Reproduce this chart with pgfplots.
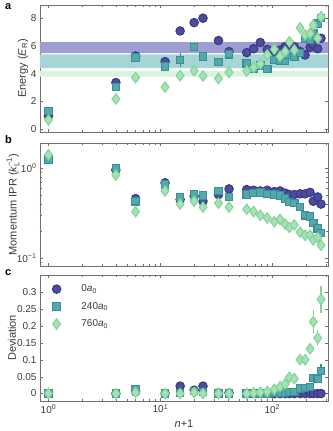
\documentclass[border=0pt]{standalone}
\usepackage{fontspec}
\setmainfont{Liberation Sans}
\usepackage{amsmath}
\usepackage{pgfplots}
\usepackage{pgfplotstable}
\pgfplotsset{compat=1.18}
\definecolor{cA}{HTML}{4E4D9C}
\definecolor{cAe}{HTML}{3A3889}
\definecolor{cB}{HTML}{52A8AA}
\definecolor{cBe}{HTML}{3B8F93}
\definecolor{cC}{HTML}{A6E3B4}
\definecolor{cCe}{HTML}{85D39A}
\definecolor{bandP}{HTML}{9E9ED2}
\definecolor{bandT}{HTML}{A5D5D4}
\definecolor{bandG}{HTML}{D9F3DF}
\definecolor{axgray}{HTML}{707070}
\definecolor{txgray}{HTML}{3A3A3A}

% energy: circle / square / diamond with errors
\pgfplotstableread{
n   c    ce   s    se   d    de
1   0.96 0    1.32 0    0.67 0
4   3.36 0    3.03 0    2.18 0
6   5.28 0    5.16 0    3.72 0
11  4.87 0.2  4.51 0    3.03 0
15  7.08 0    4.99 0.5  3.86 0.25
20  7.68 0    5.91 0    4.22 0.15
24  8.00 0    5.23 0    3.84 0
33  6.39 0    4.85 0    3.65 0
41  5.59 0    5.40 0.25 4.11 0.4
59  5.52 0    4.75 0    4.20 0.1
68  5.80 0    4.35 0    4.45 0
78  6.25 0    4.60 0    4.70 0
90  5.75 0    4.35 0    5.35 0
104 5.60 0    5.00 0    5.75 0
117 5.70 0    4.95 0    5.25 0
130 5.95 0    4.90 0    5.60 0
142 5.80 0    5.35 0    6.30 0
157 5.95 0    5.20 0    5.70 0
177 5.60 0    5.50 0    7.30 0
196 5.35 0    6.50 0    6.80 0
217 5.90 0    6.45 0    6.90 0
232 6.10 0    6.90 0    7.50 0
254 5.80 0    7.60 0    6.55 0
272 6.55 0    8.00 0    8.10 0
}\tEnergy

\pgfplotstableread{
n   c    s     d
1   1.30 1.25  1.41
4   0.96 1.00  0.84
6   0.46 0.43  0.33
11  0.69 0.66  0.56
15  0.45 0.48  0.40
20  0.49 0.51  0.43
24  0.43 0.50  0.37
33  0.51 0.56  0.41
41  0.59 0.48  0.37
59  0.58 0.51  0.35
68  0.57 0.53  0.33
78  0.56 0.54  0.30
90  0.57 0.52  0.28
104 0.55 0.51  0.255
117 0.56 0.50  0.27
130 0.53 0.46  0.24
142 0.51 0.42  0.22
157 0.51 0.41  0.235
177 0.52 0.37  0.195
196 0.52 0.30  0.18
217 0.54 0.29  0.18
232 0.43 0.245 0.16
254 0.48 0.215 0.17
272 0.40 0.19  0.14
}\tIPR

\pgfplotstableread{
n   c     ce  s     se    d     de
1   0     0   0     0     0     0
4   0     0   0     0     0     0
6   0.005 0   0.013 0     0.003 0.005
11  0     0   0     0     0     0
15  0.022 0   0.001 0     0     0
20  0.010 0   0.008 0     0.003 0
24  0.022 0   0.005 0     0     0
33  0.002 0   0     0     0     0
41  0.002 0   0     0     0     0
59  0     0   0     0     0     0
68  0     0   0     0     0.002 0
78  0     0   0     0     0.004 0
90  0     0   0     0     0.006 0
104 0     0   0.001 0     0.012 0.004
117 0     0   0.002 0     0.020 0.005
130 0     0   0.003 0     0.028 0.006
142 0     0   0.004 0     0.048 0.008
157 0     0   0.005 0     0.044 0.008
177 0     0   0.015 0     0.100 0.010
196 0     0   0.017 0     0.100 0.012
217 0     0   0.020 0.005 0.132 0.015
232 0     0   0.046 0.010 0.212 0.035
254 0     0   0.043 0.012 0.164 0.025
272 0     0   0.066 0.022 0.278 0.040
}\tDev

\newcommand{\tickfont}{\fontsize{10}{12}\selectfont}
\newcommand{\labfont}{\fontsize{11}{13}\selectfont}

\pgfplotsset{
  myPanel/.style={
    scale only axis, width=288pt,
    xmin=0.84, xmax=314,
    xtick={1,10,100},
    minor xtick={2,3,4,5,6,7,8,9,20,30,40,50,60,70,80,90,200,300},
    axis line style={axgray}, tick style={axgray},
    major tick length=3pt, minor tick length=1.8pt,
    xticklabel style={font=\tickfont, text=txgray},
    yticklabel style={font=\tickfont, text=txgray},
    xlabel style={font=\labfont, text=txgray},
    ylabel style={font=\labfont, text=txgray},
  },
  mkA/.style={only marks, mark=*, mark size=4.2pt, draw=cAe, fill=cA, line width=1.1pt,
    legend image code/.code={\path[draw=none, fill=none] (0cm,0cm) -- (1.1cm,0cm); \draw[##1, only marks] plot coordinates {(0.3cm,0cm)};}},
  mkB/.style={only marks, mark=square*, mark size=3.7pt, draw=cBe, fill=cB, line width=1.1pt,
    legend image code/.code={\path[draw=none, fill=none] (0cm,0cm) -- (1.1cm,0cm); \draw[##1, only marks] plot coordinates {(0.3cm,0cm)};}},
  mkC/.style={only marks, mark=diamond*, mark size=5.2pt, draw=cCe, fill=cC, line width=1.1pt,
    legend image code/.code={\path[draw=none, fill=none] (0cm,0cm) -- (1.1cm,0cm); \draw[##1, only marks] plot coordinates {(0.3cm,0cm)};}},
  errA/.style={error bars/y dir=both, error bars/y explicit, error bars/error mark=none,
    error bars/error bar style={cAe, line width=1.2pt}},
  errB/.style={error bars/y dir=both, error bars/y explicit, error bars/error mark=none,
    error bars/error bar style={cBe, line width=1.2pt}},
  errC/.style={error bars/y dir=both, error bars/y explicit, error bars/error mark=none,
    error bars/error bar style={cCe, line width=1.2pt}},
}

\begin{document}
\begin{tikzpicture}
\path[use as bounding box] (-40pt,5pt) rectangle (292pt,-426pt);

\node[anchor=base west, font=\bfseries\fontsize{11}{12}\selectfont, inner sep=0] at (-35pt,-4.5pt) {a};
\node[anchor=base west, font=\bfseries\fontsize{11}{12}\selectfont, inner sep=0] at (-35pt,-138pt) {b};
\node[anchor=base west, font=\bfseries\fontsize{11}{12}\selectfont, inner sep=0] at (-35pt,-270pt) {c};

% a: energy
\begin{semilogxaxis}[myPanel, at={(0pt,0pt)}, anchor=north west, height=127pt,
  ymin=-0.2, ymax=8.95, ytick={0,2,4,6,8}, yticklabels={0,2,4,6,8},
  xticklabels={},
  ylabel={Energy (\textit{E}\textsubscript{R})},
  ylabel style={at={(axis description cs:-0.059,0.5)}, anchor=center}]
  \addplot[draw=none, fill=bandP, forget plot] coordinates {(0.84,5.48) (314,5.48) (314,6.27) (0.84,6.27) (0.84,5.48)};
  \addplot[draw=none, fill=bandT, forget plot] coordinates {(0.84,4.40) (314,4.40) (314,5.40) (0.84,5.40) (0.84,4.40)};
  \addplot[draw=none, fill=bandG, forget plot] coordinates {(0.84,3.79) (314,3.79) (314,4.20) (0.84,4.20) (0.84,3.79)};
  \addplot[mkA, errA] table[x=n, y=c, y error=ce] {\tEnergy};
  \addplot[mkB, errB] table[x=n, y=s, y error=se] {\tEnergy};
  \addplot[mkC, errC] table[x=n, y=d, y error=de] {\tEnergy};
\end{semilogxaxis}

% b: momentum IPR
\begin{loglogaxis}[myPanel, at={(0pt,-138pt)}, anchor=north west, height=123pt,
  ymin=0.082, ymax=1.91,
  ytick={0.1,1}, yticklabels={10\textsuperscript{−1},10\textsuperscript{0}},
  minor ytick={0.09,0.2,0.3,0.4,0.5,0.6,0.7,0.8,0.9},
  xticklabels={},
  ylabel={Momentum IPR ($\textit{k}_\text{L}^{\text{−1}}$)},
  ylabel style={at={(axis description cs:-0.094,0.5)}, anchor=center}]
  \addplot[mkA] table[x=n, y=c] {\tIPR};
  \addplot[mkB] table[x=n, y=s] {\tIPR};
  \addplot[mkC] table[x=n, y=d] {\tIPR};
\end{loglogaxis}

% c: deviation
\begin{semilogxaxis}[myPanel, at={(0pt,-270pt)}, anchor=north west, height=126pt,
  ymin=-0.022, ymax=0.35,
  ytick={0,0.05,0.1,0.15,0.2,0.25,0.3},
  yticklabels={0,0.05,0.1,0.15,0.2,0.25,0.3},
  xticklabels={10\textsuperscript{0},10\textsuperscript{1},10\textsuperscript{2}},
  xlabel={\textit{n}+1}, ylabel={Deviation},
  ylabel style={at={(axis description cs:-0.097,0.5)}, anchor=center},
  legend style={at={(0.017,0.955)}, anchor=north west, draw=none, fill=none,
    font=\tickfont, text=txgray, row sep=5pt},
  legend cell align=left]
  \addplot[mkA, errA] table[x=n, y=c, y error=ce] {\tDev};
  \addplot[mkB, errB] table[x=n, y=s, y error=se] {\tDev};
  \addplot[mkC, errC] table[x=n, y=d, y error=de] {\tDev};
  \legend{0\textit{a}\textsubscript{0}, 240\textit{a}\textsubscript{0}, 760\textit{a}\textsubscript{0}}
\end{semilogxaxis}
\end{tikzpicture}
\end{document}
